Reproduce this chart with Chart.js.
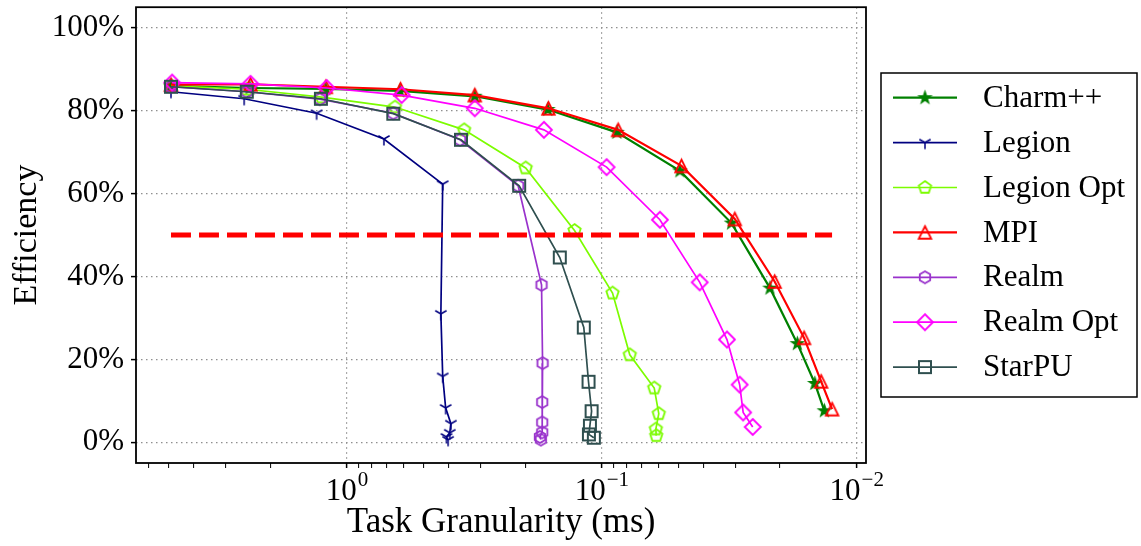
<!DOCTYPE html>
<html>
<head>
<meta charset="utf-8">
<title>Efficiency vs task granularity</title>
<script src="https://cdn.jsdelivr.net/npm/chart.js@4.4.0/dist/chart.umd.min.js"></script>
<style>
  html, body { margin: 0; padding: 0; background: #fff; }
  #wrap { position: relative; width: 1141px; height: 546px; }
</style>
</head>
<body>
<div id="wrap"><canvas id="chart_efficiency"></canvas></div>
<script>
// task granularity (ms) and efficiency (%) for each runtime
const charmGranularity = [4.90, 2.40, 1.21, 0.620, 0.315, 0.163, 0.0873, 0.0494, 0.0310, 0.0219, 0.0171, 0.0146, 0.0134];
const charmEfficiency  = [86.0, 85.5, 85.3, 84.8, 83.5, 80.3, 74.8, 65.5, 52.9, 37.2, 23.8, 14.2, 7.6];

const legionGranularity = [4.90, 2.53, 1.315, 0.716, 0.421, 0.428, 0.421, 0.410, 0.391, 0.395, 0.407, 0.401];
const legionEfficiency  = [84.6, 82.9, 79.4, 73.2, 62.3, 31.0, 15.9, 8.3, 4.5, 2.3, 1.3, 0.6];

const legionOptGranularity = [4.90, 2.47, 1.257, 0.648, 0.347, 0.199, 0.128, 0.0908, 0.0777, 0.0623, 0.0598, 0.0614, 0.0612];
const legionOptEfficiency  = [86.0, 85.2, 83.3, 80.9, 75.4, 66.2, 51.1, 36.0, 21.1, 13.1, 6.9, 3.2, 1.6];

const mpiGranularity = [4.90, 2.39, 1.21, 0.616, 0.315, 0.162, 0.0863, 0.0487, 0.0301, 0.0210, 0.0161, 0.0138, 0.0125];
const mpiEfficiency  = [86.3, 86.4, 85.8, 85.2, 83.8, 80.6, 75.4, 66.7, 53.9, 38.8, 25.2, 14.7, 8.0];

const realmGranularity = [4.90, 2.47, 1.276, 0.658, 0.360, 0.213, 0.1724, 0.1708, 0.1714, 0.1714, 0.1714, 0.175, 0.1735];
const realmEfficiency  = [85.8, 84.6, 82.8, 79.4, 73.0, 61.9, 38.0, 19.1, 9.7, 4.8, 2.4, 1.3, 0.65];

const realmOptGranularity = [4.85, 2.39, 1.201, 0.610, 0.315, 0.1688, 0.0958, 0.0592, 0.0413, 0.0323, 0.0288, 0.0279, 0.0256];
const realmOptEfficiency  = [86.8, 86.5, 85.5, 83.8, 80.6, 75.4, 66.4, 53.7, 38.6, 24.8, 13.9, 7.2, 3.7];

const starpuGranularity = [4.90, 2.47, 1.265, 0.658, 0.357, 0.211, 0.1462, 0.1177, 0.1128, 0.1097, 0.1114, 0.1124, 0.1075];
const starpuEfficiency  = [85.8, 84.6, 82.9, 79.3, 73.0, 61.9, 44.6, 27.7, 14.6, 7.5, 4.0, 1.9, 1.1];

// 50% efficiency reference line
const thresholdGranularity = [4.90, 0.0125];
const thresholdEfficiency  = [50, 50];

const yTickValues = [0, 20, 40, 60, 80, 100];
const xMajorTicks = [1, 0.1, 0.01];
const xTickExponents = ['0', '\u22121', '\u22122'];

const X_MIN = 0.0092, X_MAX = 6.72;
const SERIF = "'Liberation Serif', 'DejaVu Serif', serif";

function points(xs, ys) {
  return xs.map((x, i) => ({ x: x, y: ys[i] }));
}

// small canvases used as point styles (open markers like the matplotlib ones)
function makeMarker(shape, color, size, lw, filled) {
  const s = Math.ceil(size + lw * 2 + 4);
  const c = document.createElement('canvas');
  c.width = s; c.height = s;
  const g = c.getContext('2d');
  const m = s / 2, r = size / 2;
  g.strokeStyle = color;
  g.fillStyle = color;
  g.lineWidth = lw;
  g.lineJoin = 'miter';
  g.beginPath();
  if (shape === 'square') {
    g.rect(m - r, m - r, size, size);
  } else if (shape === 'triangle') {
    g.moveTo(m, m - r);
    g.lineTo(m + r, m + r);
    g.lineTo(m - r, m + r);
    g.closePath();
  } else if (shape === 'tri_down') {
    [[0, 1], [0.866, -0.5], [-0.866, -0.5]].forEach(([dx, dy]) => {
      g.moveTo(m, m);
      g.lineTo(m + dx * r, m + dy * r);
    });
  } else if (shape === 'star') {
    for (let i = 0; i < 10; i++) {
      const a = -Math.PI / 2 + i * Math.PI / 5;
      const rr = i % 2 ? r * 0.4 : r;
      const px = m + rr * Math.cos(a), py = m + rr * Math.sin(a);
      if (i === 0) g.moveTo(px, py); else g.lineTo(px, py);
    }
    g.closePath();
  } else {
    const n = { diamond: 4, pentagon: 5, hexagon: 6 }[shape];
    for (let i = 0; i < n; i++) {
      const a = -Math.PI / 2 + i * 2 * Math.PI / n;
      const px = m + r * Math.cos(a), py = m + r * Math.sin(a);
      if (i === 0) g.moveTo(px, py); else g.lineTo(px, py);
    }
    g.closePath();
  }
  if (filled) g.fill();
  g.stroke();
  return c;
}

function series(label, xs, ys, color, marker, width, order) {
  return {
    label: label,
    data: points(xs, ys),
    borderColor: color,
    backgroundColor: color,
    borderWidth: width,
    pointStyle: marker,
    pointRadius: 5,
    pointHoverRadius: 5,
    tension: 0,
    order: order
  };
}

const datasets = [
  series('Charm++', charmGranularity, charmEfficiency, '#008000', makeMarker('star', '#008000', 12, 1.5, true), 2.2, 7),
  series('Legion', legionGranularity, legionEfficiency, '#000080', makeMarker('tri_down', '#000080', 13, 1.5, false), 1.7, 6),
  series('Legion Opt', legionOptGranularity, legionOptEfficiency, '#7cfc00', makeMarker('pentagon', '#7cfc00', 13, 1.8, false), 1.7, 5),
  series('MPI', mpiGranularity, mpiEfficiency, '#ff0000', makeMarker('triangle', '#ff0000', 12.5, 1.8, false), 2.2, 4),
  series('Realm', realmGranularity, realmEfficiency, '#9932cc', makeMarker('hexagon', '#9932cc', 12, 1.8, false), 1.7, 3),
  series('Realm Opt', realmOptGranularity, realmOptEfficiency, '#ff00ff', makeMarker('diamond', '#ff00ff', 16, 1.8, false), 1.7, 2),
  series('StarPU', starpuGranularity, starpuEfficiency, '#2f4f4f', makeMarker('square', '#2f4f4f', 12, 2, false), 1.7, 1),
  {
    label: '',
    data: points(thresholdGranularity, thresholdEfficiency),
    borderColor: '#ff0000',
    borderWidth: 5,
    borderDash: [20, 8],
    pointRadius: 0,
    order: 0
  }
];

// minor + major ticks for the log axis, kept inside the visible range
const xTickValues = [];
for (let e = -3; e <= 0; e++) {
  for (let k = 1; k <= 9; k++) {
    const v = k * Math.pow(10, e);
    if (v >= X_MIN && v <= X_MAX) xTickValues.push({ value: v, major: k === 1 });
  }
}

const frameAndLabels = {
  id: 'frameAndLabels',
  afterDatasetsDraw(chart) {
    const { ctx, chartArea: a } = chart;
    ctx.save();
    ctx.strokeStyle = '#000';
    ctx.lineWidth = 1.8;
    ctx.strokeRect(a.left, a.top, a.right - a.left, a.bottom - a.top);
    ctx.restore();
  },
  afterDraw(chart) {
    const { ctx, chartArea: a } = chart;
    const xs = chart.scales.x;
    ctx.save();
    ctx.fillStyle = '#000';
    ctx.textBaseline = 'alphabetic';
    // 10^k labels
    xMajorTicks.forEach((v, i) => {
      const px = xs.getPixelForValue(v);
      ctx.font = '31px ' + SERIF;
      const wb = ctx.measureText('10').width;
      ctx.font = '21px ' + SERIF;
      const we = ctx.measureText(xTickExponents[i]).width;
      const x0 = px - (wb + we + 1) / 2;
      ctx.font = '31px ' + SERIF;
      ctx.fillText('10', x0, a.bottom + 37);
      ctx.font = '21px ' + SERIF;
      ctx.fillText(xTickExponents[i], x0 + wb + 1, a.bottom + 23);
    });

    // legend box
    const left = a.right + 15, top = 73, w = 256, h = 324;
    const rowGap = 44.9, firstRow = top + 24.7;
    ctx.fillStyle = '#fff';
    ctx.fillRect(left, top, w, h);
    ctx.strokeStyle = '#000';
    ctx.lineWidth = 1.5;
    ctx.strokeRect(left, top, w, h);
    chart.data.datasets.filter(d => d.label).forEach((ds, i) => {
      const y = firstRow + i * rowGap;
      ctx.strokeStyle = ds.borderColor;
      ctx.lineWidth = ds.borderWidth;
      ctx.beginPath();
      ctx.moveTo(left + 12, y);
      ctx.lineTo(left + 76, y);
      ctx.stroke();
      const img = ds.pointStyle;
      ctx.drawImage(img, left + 44 - img.width / 2, y - img.height / 2);
      ctx.fillStyle = '#000';
      ctx.font = '31px ' + SERIF;
      ctx.textBaseline = 'middle';
      ctx.fillText(ds.label, left + 102, y + 1);
    });
    ctx.restore();
  }
};

const chart_efficiency = new Chart(document.getElementById('chart_efficiency'), {
  type: 'line',
  data: { datasets: datasets },
  options: {
    animation: false,
    responsive: true,
    maintainAspectRatio: false,
    layout: { padding: { top: 7, right: 275, left: 0, bottom: 0 } },
    plugins: {
      legend: { display: false },
      tooltip: { enabled: false }
    },
    scales: {
      x: {
        type: 'logarithmic',
        reverse: true,
        min: X_MIN,
        max: X_MAX,
        afterBuildTicks: (scale) => { scale.ticks = xTickValues.map(t => ({ value: t.value, major: t.major })); },
        afterFit: (scale) => { scale.height = 83; scale.paddingLeft = 0; scale.paddingRight = 0; },
        ticks: { autoSkip: false, maxRotation: 0, callback: () => '' },
        grid: {
          color: (c) => (c.tick && c.tick.major) ? '#8f8f8f' : 'rgba(0,0,0,0)',
          lineWidth: 1.2,
          tickColor: '#000',
          tickLength: 5,
          tickWidth: (c) => (c.tick && c.tick.major) ? 1.5 : 1
        },
        border: { display: false, dash: [1.5, 3.5] },
        title: {
          display: true,
          text: 'Task Granularity (ms)',
          color: '#000',
          font: { family: SERIF, size: 35 },
          padding: { top: 0, bottom: 2 }
        }
      },
      y: {
        type: 'linear',
        min: -5,
        max: 105,
        afterBuildTicks: (scale) => { scale.ticks = yTickValues.map(v => ({ value: v })); },
        afterFit: (scale) => { scale.width = 136; scale.paddingTop = 0; scale.paddingBottom = 0; },
        ticks: {
          color: '#000',
          padding: 7,
          font: { family: SERIF, size: 31 },
          callback: (v) => v + '%'
        },
        grid: {
          color: '#8f8f8f',
          lineWidth: 1.2,
          tickColor: '#000',
          tickLength: 5,
          tickWidth: 1.5
        },
        border: { display: false, dash: [1.5, 3.5] },
        title: {
          display: true,
          text: 'Efficiency',
          color: '#000',
          font: { family: SERIF, size: 34 },
          padding: { top: 7, bottom: 0 }
        }
      }
    }
  },
  plugins: [frameAndLabels]
});
</script>
</body>
</html>
